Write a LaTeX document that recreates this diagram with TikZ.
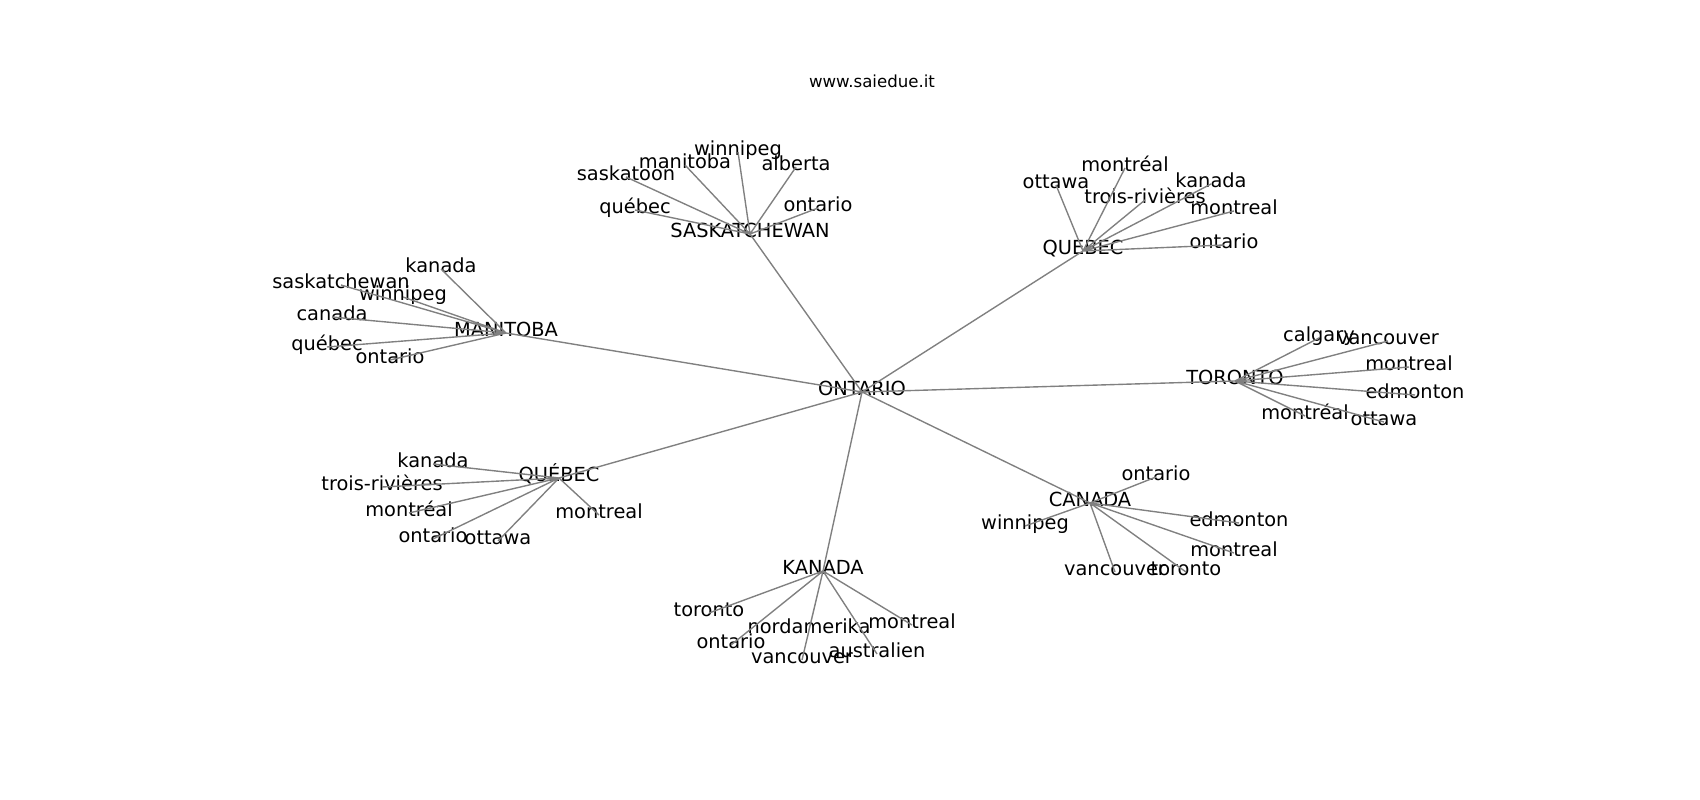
\documentclass[tikz,border=0pt]{standalone}
\usepackage{fontspec}
\setmainfont{DejaVu Sans}

\tikzset{
    city/.style={inner sep=0pt, text height=0.76em, text depth=0.24em, font=\fontsize{14}{16}\selectfont},
    link/.style={draw=gray, line width=1pt},
}

\begin{document}
\begin{tikzpicture}[x=0.01in, y=-0.01in]
    \useasboundingbox (0,0) rectangle (1700,800);
    \node[city, font=\fontsize{12}{14}\selectfont] (title) at (872,84) {www.saiedue.it};

    % centre
    \node[city] (on) at (862,392) {ONTARIO};

    % saskatchewan
    \node[city] (sk) at (750,234) {SASKATCHEWAN};
    \node[city] (sk-win) at (738,152) {winnipeg};
    \node[city] (sk-man) at (685,165) {manitoba};
    \node[city] (sk-alb) at (796,167) {alberta};
    \node[city] (sk-stn) at (626,177) {saskatoon};
    \node[city] (sk-qc) at (635,210) {québec};
    \node[city] (sk-on) at (818,208) {ontario};

    % manitoba
    \node[city] (mb) at (506,333) {MANITOBA};
    \node[city] (mb-kan) at (441,269) {kanada};
    \node[city] (mb-sk) at (341,285) {saskatchewan};
    \node[city] (mb-win) at (403,297) {winnipeg};
    \node[city] (mb-can) at (332,317) {canada};
    \node[city] (mb-qc) at (327,347) {québec};
    \node[city] (mb-on) at (390,360) {ontario};

    % quebec
    \node[city] (qc) at (1083,251) {QUEBEC};
    \node[city] (qc-mtl) at (1125,168) {montréal};
    \node[city] (qc-ott) at (1056,185) {ottawa};
    \node[city] (qc-tr) at (1145,200) {trois-rivières};
    \node[city] (qc-kan) at (1211,184) {kanada};
    \node[city] (qc-mon) at (1234,211) {montreal};
    \node[city] (qc-on) at (1224,245) {ontario};

    % toronto
    \node[city] (to) at (1235,381) {TORONTO};
    \node[city] (to-cal) at (1319,338) {calgary};
    \node[city] (to-van) at (1388,341) {vancouver};
    \node[city] (to-mon) at (1409,367) {montreal};
    \node[city] (to-edm) at (1415,395) {edmonton};
    \node[city] (to-mtl) at (1305,416) {montréal};
    \node[city] (to-ott) at (1384,422) {ottawa};

    % québec
    \node[city] (qe) at (559,478) {QUÉBEC};
    \node[city] (qe-kan) at (433,464) {kanada};
    \node[city] (qe-tr) at (382,487) {trois-rivières};
    \node[city] (qe-mtl) at (409,513) {montréal};
    \node[city] (qe-on) at (433,539) {ontario};
    \node[city] (qe-ott) at (498,541) {ottawa};
    \node[city] (qe-mon) at (599,515) {montreal};

    % kanada
    \node[city] (ka) at (823,571) {KANADA};
    \node[city] (ka-to) at (709,613) {toronto};
    \node[city] (ka-na) at (809,630) {nordamerika};
    \node[city] (ka-mon) at (912,625) {montreal};
    \node[city] (ka-on) at (731,645) {ontario};
    \node[city] (ka-van) at (802,660) {vancouver};
    \node[city] (ka-aus) at (877,654) {australien};

    % canada
    \node[city] (ca) at (1090,503) {CANADA};
    \node[city] (ca-on) at (1156,477) {ontario};
    \node[city] (ca-win) at (1025,526) {winnipeg};
    \node[city] (ca-edm) at (1239,523) {edmonton};
    \node[city] (ca-mon) at (1234,553) {montreal};
    \node[city] (ca-van) at (1115,572) {vancouver};
    \node[city] (ca-to) at (1186,572) {toronto};

    \draw[link] (on.center) -- (sk.center) (on.center) -- (mb.center) (on.center) -- (qc.center)
        (on.center) -- (to.center) (on.center) -- (qe.center) (on.center) -- (ka.center) (on.center) -- (ca.center);
    \draw[link] (sk.center) -- (sk-win.center) (sk.center) -- (sk-man.center) (sk.center) -- (sk-alb.center)
        (sk.center) -- (sk-stn.center) (sk.center) -- (sk-qc.center) (sk.center) -- (sk-on.center);
    \draw[link] (mb.center) -- (mb-kan.center) (mb.center) -- (mb-sk.center) (mb.center) -- (mb-win.center)
        (mb.center) -- (mb-can.center) (mb.center) -- (mb-qc.center) (mb.center) -- (mb-on.center);
    \draw[link] (qc.center) -- (qc-mtl.center) (qc.center) -- (qc-ott.center) (qc.center) -- (qc-tr.center)
        (qc.center) -- (qc-kan.center) (qc.center) -- (qc-mon.center) (qc.center) -- (qc-on.center);
    \draw[link] (to.center) -- (to-cal.center) (to.center) -- (to-van.center) (to.center) -- (to-mon.center)
        (to.center) -- (to-edm.center) (to.center) -- (to-mtl.center) (to.center) -- (to-ott.center);
    \draw[link] (qe.center) -- (qe-kan.center) (qe.center) -- (qe-tr.center) (qe.center) -- (qe-mtl.center)
        (qe.center) -- (qe-on.center) (qe.center) -- (qe-ott.center) (qe.center) -- (qe-mon.center);
    \draw[link] (ka.center) -- (ka-to.center) (ka.center) -- (ka-na.center) (ka.center) -- (ka-mon.center)
        (ka.center) -- (ka-on.center) (ka.center) -- (ka-van.center) (ka.center) -- (ka-aus.center);
    \draw[link] (ca.center) -- (ca-on.center) (ca.center) -- (ca-win.center) (ca.center) -- (ca-edm.center)
        (ca.center) -- (ca-mon.center) (ca.center) -- (ca-van.center) (ca.center) -- (ca-to.center);
\end{tikzpicture}
\end{document}
